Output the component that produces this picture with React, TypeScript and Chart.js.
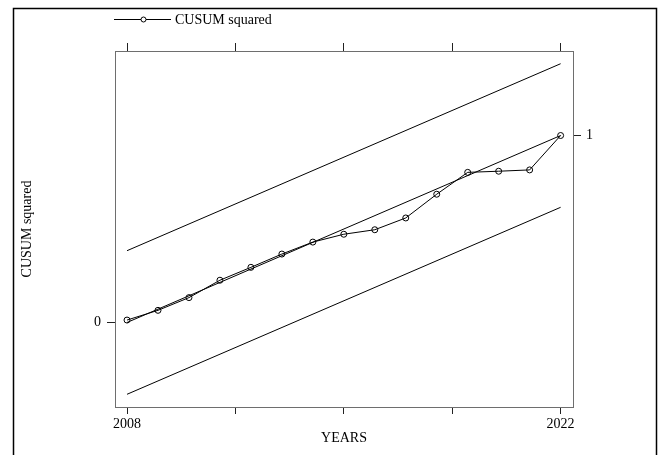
import React, { useEffect, useRef } from "react";
import { Chart, registerables } from "chart.js";

Chart.register(...registerables);

const years = [2008, 2009, 2010, 2011, 2012, 2013, 2014, 2015, 2016, 2017, 2018, 2019, 2020, 2021, 2022];
const cusumSquared = [0.013, 0.065, 0.133, 0.226, 0.295, 0.366, 0.43, 0.472, 0.496, 0.559, 0.686, 0.803, 0.809, 0.816, 1.0];

const boundYears = [2008, 2022];
const centerLine = [0, 1];
const upperBound = [0.384, 1.384];
const lowerBound = [-0.384, 0.616];

const xTickValues = [2008, 2011.5, 2015, 2018.5, 2022];
const xTickLabels = [2008, 2022];
const yLeftTicks = [0];
const yRightTicks = [1];

const FONT = "'Liberation Serif', 'Times New Roman', serif";

export default function App() {
  const ref = useRef<HTMLCanvasElement | null>(null);

  useEffect(() => {
    document.body.style.margin = "0";
    const canvas = ref.current;
    if (!canvas) return;

    const framePlugin = {
      id: "frameAndLegend",
      afterDraw(chart: any) {
        const ctx = chart.ctx as CanvasRenderingContext2D;
        ctx.save();
        // outer frame
        ctx.strokeStyle = "#000";
        ctx.lineWidth = 1.5;
        ctx.strokeRect(13.5, 8.5, 643, 470);
        // legend
        ctx.lineWidth = 1;
        ctx.strokeStyle = "#000";
        ctx.beginPath();
        ctx.moveTo(114, 19.5);
        ctx.lineTo(171, 19.5);
        ctx.stroke();
        ctx.fillStyle = "#fff";
        ctx.beginPath();
        ctx.arc(143.5, 19.5, 2.5, 0, Math.PI * 2);
        ctx.fill();
        ctx.stroke();
        ctx.fillStyle = "#000";
        ctx.font = `14px ${FONT}`;
        ctx.textBaseline = "alphabetic";
        ctx.textAlign = "left";
        ctx.fillText("CUSUM squared", 175, 24);
        ctx.restore();
      },
    };

    const axisCommon = {
      border: { display: true, color: "#6e6e6e", width: 1 },
    };

    const chart = new Chart(canvas, {
      type: "line",
      data: {
        datasets: [
          {
            label: "CUSUM squared",
            data: years.map((x, i) => ({ x, y: cusumSquared[i] })),
            borderColor: "#000",
            borderWidth: 1,
            pointRadius: 3,
            pointBorderWidth: 1,
            pointBorderColor: "#000",
            pointBackgroundColor: "rgba(0,0,0,0)",
            tension: 0,
            xAxisID: "x",
            yAxisID: "y",
          },
          {
            label: "Expected",
            data: boundYears.map((x, i) => ({ x, y: centerLine[i] })),
            borderColor: "#000",
            borderWidth: 1,
            pointRadius: 0,
            xAxisID: "x",
            yAxisID: "y",
          },
          {
            label: "Upper bound",
            data: boundYears.map((x, i) => ({ x, y: upperBound[i] })),
            borderColor: "#000",
            borderWidth: 1,
            pointRadius: 0,
            xAxisID: "x",
            yAxisID: "y",
          },
          {
            label: "Lower bound",
            data: boundYears.map((x, i) => ({ x, y: lowerBound[i] })),
            borderColor: "#000",
            borderWidth: 1,
            pointRadius: 0,
            xAxisID: "x",
            yAxisID: "y",
          },
        ],
      },
      options: {
        responsive: false,
        animation: false,
        devicePixelRatio: 1,
        layout: { padding: 0 },
        plugins: {
          legend: { display: false },
          tooltip: { enabled: false },
        },
        scales: {
          x: {
            type: "linear",
            position: "bottom",
            min: 2007.612,
            max: 2022.4,
            afterBuildTicks: (s: any) => {
              s.ticks = xTickValues.map((v) => ({ value: v }));
            },
            afterFit: (s: any) => {
              s.height = 48;
            },
            ticks: {
              color: "#000",
              font: { family: FONT, size: 14 },
              padding: 2,
              maxRotation: 0,
              autoSkip: false,
              callback: (v: any) => (xTickLabels.includes(Number(v)) ? String(v) : ""),
            },
            grid: { display: true, drawOnChartArea: false, drawTicks: true, tickLength: 7, color: "#222" },
            ...axisCommon,
            title: {
              display: true,
              text: "YEARS",
              color: "#000",
              font: { family: FONT, size: 14 },
              padding: { top: 0, bottom: 8 },
            },
          },
          xTop: {
            type: "linear",
            axis: "x",
            position: "top",
            min: 2007.612,
            max: 2022.4,
            afterBuildTicks: (s: any) => {
              s.ticks = xTickValues.map((v) => ({ value: v }));
            },
            afterFit: (s: any) => {
              s.height = 51;
            },
            ticks: { display: false },
            grid: { display: true, drawOnChartArea: false, drawTicks: true, tickLength: 8, color: "#222" },
            ...axisCommon,
          },
          y: {
            type: "linear",
            position: "left",
            min: -0.452,
            max: 1.452,
            afterBuildTicks: (s: any) => {
              s.ticks = yLeftTicks.map((v) => ({ value: v }));
            },
            afterFit: (s: any) => {
              s.width = 115;
            },
            ticks: {
              color: "#000",
              font: { family: FONT, size: 14 },
              padding: 6,
              callback: (v: any) => String(v),
            },
            grid: { display: true, drawOnChartArea: false, drawTicks: true, tickLength: 8, color: "#222" },
            ...axisCommon,
            title: {
              display: true,
              text: "CUSUM squared",
              color: "#000",
              font: { family: FONT, size: 14 },
              padding: { top: 18.5, bottom: 0 },
            },
          },
          yRight: {
            type: "linear",
            axis: "y",
            position: "right",
            min: -0.452,
            max: 1.452,
            afterBuildTicks: (s: any) => {
              s.ticks = yRightTicks.map((v) => ({ value: v }));
            },
            afterFit: (s: any) => {
              s.width = 90;
            },
            ticks: {
              color: "#000",
              font: { family: FONT, size: 14 },
              padding: 5,
              callback: (v: any) => String(v),
            },
            grid: { display: true, drawOnChartArea: false, drawTicks: true, tickLength: 8, color: "#222" },
            ...axisCommon,
          },
        },
      },
      plugins: [framePlugin],
    } as any);

    return () => {
      chart.destroy();
    };
  }, []);

  return (
    <div style={{ width: 663, height: 455, position: "relative", background: "#fff" }}>
      <canvas ref={ref} width={663} height={455} style={{ display: "block" }} />
    </div>
  );
}
